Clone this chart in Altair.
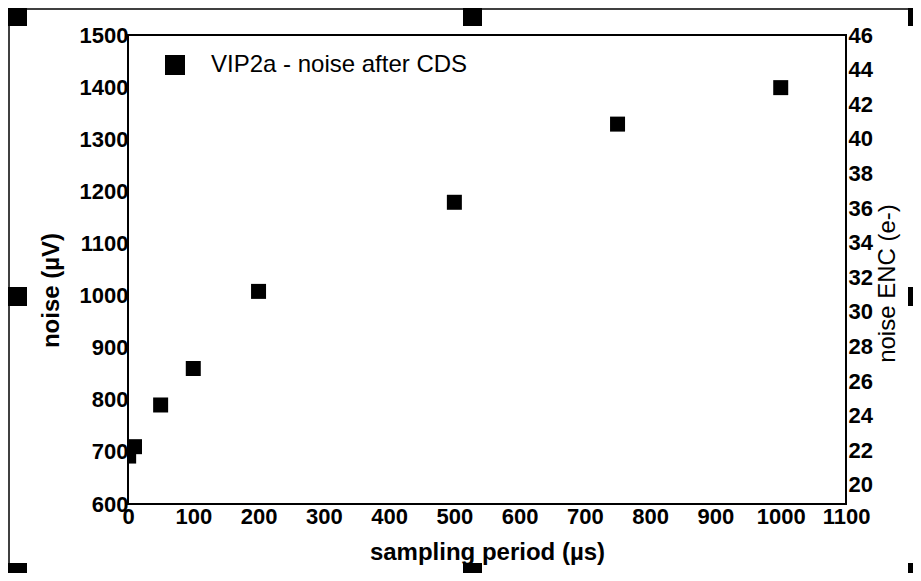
import altair as alt
import pandas as pd

# ---- data ----
period_us = [1, 10, 50, 100, 200, 500, 750, 1000]
noise_uv = [692, 710, 790, 860, 1008, 1179, 1329, 1399]
series_name = "VIP2a - noise after CDS"

x_ticks = list(range(0, 1101, 100))
y_ticks = list(range(600, 1501, 100))
enc_ticks = list(range(20, 47, 2))
x_domain = [0, 1100]
y_domain = [600, 1500]
enc_domain = [18.9, 46]

df = pd.DataFrame({"period": period_us, "noise": noise_uv,
                   "series": [series_name] * len(period_us)})
enc_df = pd.DataFrame({"enc": enc_ticks})

FONT = "Liberation Sans"
W, H = 718, 469
PAD_L, PAD_T, PAD_R, PAD_B = 120, 27, 67, 69
ORIGIN_X, ORIGIN_Y = 8 + PAD_L, 8 + PAD_T  # page position of plot origin
PAGE_R = 8 + PAD_L + W + PAD_R   # right edge of the drawing on the page
PAGE_B = 8 + PAD_T + H + PAD_B   # bottom edge of the drawing on the page

one = pd.DataFrame({"k": [0]})


def page_rect(x0, y0, x1, y1, **mark):
    """Decorative rectangle given in page pixels (selection handles)."""
    x1, y1 = min(x1, PAGE_R), min(y1, PAGE_B)
    return alt.Chart(one).mark_rect(**mark).encode(
        x=alt.value(x0 - ORIGIN_X), x2=alt.value(x1 - ORIGIN_X),
        y=alt.value(y0 - ORIGIN_Y), y2=alt.value(y1 - ORIGIN_Y),
    )


def page_rule(x0, y0, x1, y1):
    """Decorative line given in page pixels (selection frame)."""
    return alt.Chart(one).mark_rule(color="black", strokeWidth=1.5).encode(
        x=alt.value(x0 - ORIGIN_X), x2=alt.value(x1 - ORIGIN_X),
        y=alt.value(y0 - ORIGIN_Y), y2=alt.value(y1 - ORIGIN_Y),
    )


frame_top = page_rule(8, 9, PAGE_R, 9)
frame_left = page_rule(9, 8, 9, PAGE_B)
handle_boxes = [
    (8, 8, 27, 26), (463, 8, 482, 26), (908, 8, 927, 26),
    (8, 287, 27, 306), (908, 287, 927, 306),
    (8, 563, 27, 582), (463, 563, 482, 582), (908, 563, 927, 582),
]
handles = [page_rect(*b, color="black") for b in handle_boxes]

points = alt.Chart(df).mark_square(size=225, opacity=1, clip=True).encode(
    x=alt.X("period:Q",
            scale=alt.Scale(domain=x_domain, nice=False, zero=False),
            axis=alt.Axis(values=x_ticks, format="d", title="sampling period (µs)",
                          domain=False, ticks=False, grid=False,
                          labelFont=FONT, labelFontSize=22, labelFontWeight="bold",
                          labelColor="black", labelPadding=2, labelFlush=False,
                          labelOverlap=False,
                          titleFont=FONT, titleFontSize=24, titleFontWeight="bold",
                          titleColor="black", titleX=W / 2, titleY=55,
                          titleAlign="center", titleBaseline="alphabetic")),
    y=alt.Y("noise:Q",
            scale=alt.Scale(domain=y_domain, nice=False, zero=False),
            axis=alt.Axis(values=y_ticks, format="d", title="noise (µV)",
                          domain=False, ticks=False, grid=False,
                          labelFont=FONT, labelFontSize=22, labelFontWeight="bold",
                          labelColor="black", labelPadding=0, labelFlush=False,
                          labelOverlap=False,
                          titleFont=FONT, titleFontSize=24, titleFontWeight="bold",
                          titleColor="black", titleAngle=270, titleX=-70, titleY=255,
                          titleAlign="center", titleBaseline="alphabetic")),
    color=alt.Color("series:N", scale=alt.Scale(range=["#000000"]),
                    legend=alt.Legend(orient="none", legendX=35, legendY=18,
                                      title=None, symbolType="square", symbolSize=400,
                                      symbolStrokeWidth=0, symbolOpacity=1,
                                      labelFont=FONT, labelFontSize=24,
                                      labelColor="black", labelOffset=24,
                                      labelLimit=500, padding=0)),
)

right_axis = alt.Chart(enc_df).mark_point(opacity=0).encode(
    y=alt.Y("enc:Q",
            scale=alt.Scale(domain=enc_domain, nice=False, zero=False),
            axis=alt.Axis(orient="right", values=enc_ticks, format="d",
                          title="noise ENC (e-)",
                          domain=False, ticks=False, grid=False,
                          labelFont=FONT, labelFontSize=22, labelFontWeight="bold",
                          labelColor="black", labelPadding=2, labelFlush=False,
                          labelOverlap=False,
                          titleFont=FONT, titleFontSize=24, titleFontWeight="normal",
                          titleColor="black", titleAngle=270, titleX=48, titleY=248,
                          titleAlign="center", titleBaseline="alphabetic")),
)

chart = alt.layer(frame_top, frame_left, *handles, points, right_axis).resolve_scale(
    y="independent"
).properties(
    width=W, height=H,
    autosize=alt.AutoSizeParams(type="none"),
    padding={"left": PAD_L, "top": PAD_T, "right": PAD_R, "bottom": PAD_B},
    background="white",
).configure_view(stroke="black", strokeWidth=2)

chart.save("out.html", embed_options={"renderer": "svg", "actions": False})
